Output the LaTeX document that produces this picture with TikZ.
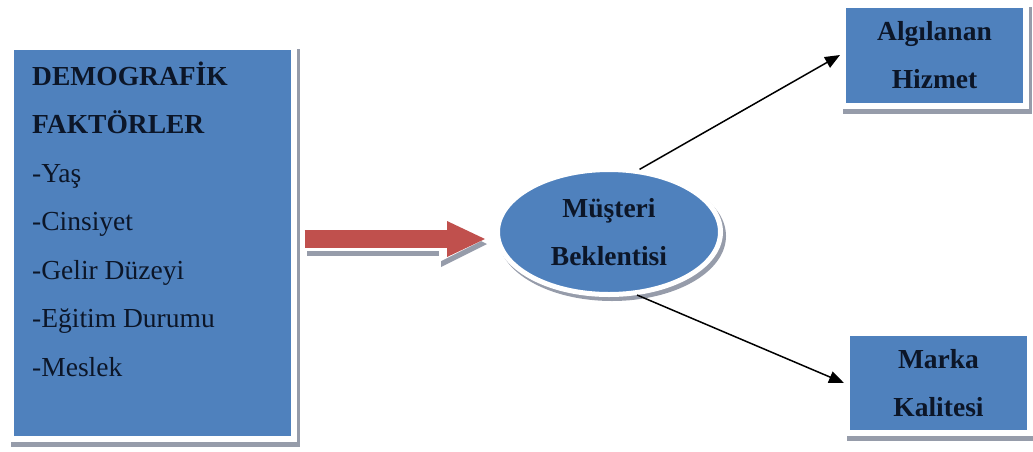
\documentclass[tikz,border=0pt]{standalone}
\usepackage{fontspec}
\setmainfont{Liberation Serif}
\usetikzlibrary{arrows.meta}
\usetikzlibrary{shapes.geometric}
\usetikzlibrary{shadows}
\usetikzlibrary{calc,positioning}

\definecolor{boxblue}{RGB}{79,129,189}
\definecolor{shadowgray}{RGB}{150,156,170}
\definecolor{arrowred}{RGB}{192,80,77}
\definecolor{inktext}{RGB}{12,22,40}

\tikzset{
 txt/.style={inner sep=0pt, text=inktext, font=\fontsize{27.5}{48}\selectfont},
 headtxt/.style={inner sep=0pt, text=inktext, font=\fontsize{27.5}{48}\selectfont\bfseries},
 bluebox/.style={rectangle, fill=boxblue, draw=white, line width=6pt, inner sep=0pt,
   drop shadow={shadow xshift=3pt, shadow yshift=-5pt, fill=shadowgray, draw=shadowgray, line width=6pt, opacity=1}},
 blueell/.style={ellipse, fill=boxblue, draw=white, line width=5pt, inner sep=0pt,
   drop shadow={shadow xshift=3pt, shadow yshift=-4pt, fill=shadowgray, draw=shadowgray, line width=5pt, opacity=1}},
 thinarrow/.style={black, line width=1.5pt, -{Triangle[length=15pt,width=12pt]}},
 bigarrow/.style={draw=arrowred, line width=18pt, -{Triangle[length=38pt,width=36pt,line width=0pt]},
   preaction={draw=shadowgray, line width=24pt, transform canvas={xshift=2pt,yshift=-5pt},
     -{Triangle[length=46pt,width=46pt,line width=0pt]}},
   preaction={draw=white, line width=24pt, -{Triangle[length=46pt,width=46pt,line width=0pt]}}}
}

\begin{document}
\begin{tikzpicture}[x=1pt,y=-1pt]
\useasboundingbox (0,0) rectangle (1033,451);
% left box with the factors
\node[bluebox, minimum width=283pt, minimum height=392pt] (demo) at (152,242.5) {};
\foreach \t [count=\i] in {DEMOGRAFİK,FAKTÖRLER}
 \node[headtxt, anchor=base west] (head\i) at (32,36.5+48.5*\i) {\t};
\foreach \t [count=\i from 3] in {-Yaş,-Cinsiyet,-Gelir Düzeyi,-Eğitim Durumu,-Meslek}
 \node[txt, anchor=base west] (item\i) at (32,36.5+48.5*\i) {\t};

% centre and right hand boxes
\node[blueell, headtxt, align=center, minimum width=223pt, minimum height=125pt] (ell) at (609,232) {Müşteri\\Beklentisi};
\node[bluebox, headtxt, align=center, minimum width=183pt, minimum height=101pt] (alg) at (934.5,55) {Algılanan\\Hizmet};
\node[bluebox, headtxt, align=center, minimum width=183pt, minimum height=100pt] (marka) at (938.5,383) {Marka\\Kalitesi};

% arrows
\draw[bigarrow] ([xshift=8pt,yshift=3.5pt]demo.east) -- ([xshift=-10pt,yshift=-7pt]ell.west);
\draw[thinarrow] (ell.64) -- (alg.west);
\draw[thinarrow] (ell.-66) -- (marka.west);
\end{tikzpicture}
\end{document}
